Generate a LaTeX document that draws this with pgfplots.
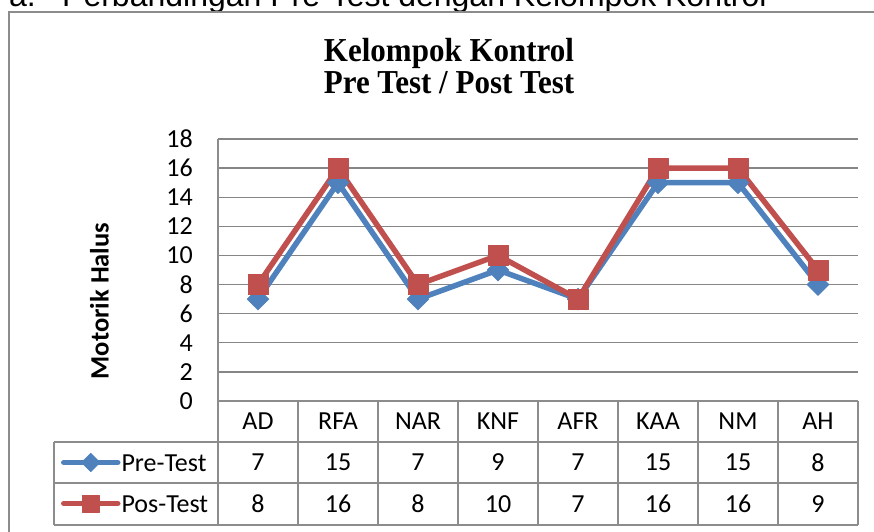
\documentclass[border=0pt]{standalone}
\usepackage{pgfplots}
\pgfplotsset{compat=1.18}
\usepackage{pgfplotstable}
\usepackage{fontspec}
\setmainfont{Carlito}
\newfontfamily\titlefont{Liberation Serif}
\newfontfamily\headfont{Liberation Sans}
\definecolor{preblue}{HTML}{4F81BD}
\definecolor{posred}{HTML}{C0504D}
\definecolor{gridc}{HTML}{868686}
\definecolor{tabc}{HTML}{8C8C8C}

\pgfplotstableread{
x name pre pos
0 AD 7 8
1 RFA 15 16
2 NAR 7 8
3 KNF 9 10
4 AFR 7 7
5 KAA 15 16
6 NM 15 16
7 AH 8 9
}\data

\newcommand\fs{\fontsize{26}{30}\selectfont}

\begin{document}
\begin{tikzpicture}[x=1pt,y=1pt]
\useasboundingbox (0,0) rectangle (874,531);
\clip (0,0) rectangle (874,531);
% heading (partly cut off, as in the reference)
\node[anchor=base west, inner sep=0pt, font=\headfont\fontsize{32}{36}\selectfont] at (9,524) {a.};
\node[anchor=base west, inner sep=0pt, font=\headfont\fontsize{32}{36}\selectfont] at (62,524) {Perbandingan Pre-Test dengan Kelompok Kontrol};
% chart border
\draw[tabc, line width=1.5pt] (9,-5) -- (9,519) -- (880,519);
% title
\node[anchor=base, inner sep=0pt, font=\titlefont\bfseries\fontsize{31}{34}\selectfont, yscale=1.08] at (449,469.3) {Kelompok Kontrol};
\node[anchor=base, inner sep=0pt, font=\titlefont\bfseries\fontsize{31}{34}\selectfont, yscale=1.08] at (449,437) {Pre Test / Post Test};
% y label
\node[rotate=90, inner sep=0pt, font=\bfseries\fontsize{26.5}{30}\selectfont] at (99.5,230) {Motorik Halus};

\begin{axis}[
  at={(218pt,130pt)}, anchor=south west,
  scale only axis, width=640pt, height=262pt,
  xmin=-0.5, xmax=7.5, ymin=0, ymax=18,
  ytick={0,2,...,18},
  xtick=data, xticklabels from table={\data}{name},
  axis x line*=bottom, axis y line*=left,
  axis line style={tabc, line width=1.5pt},
  ymajorgrids, grid style={gridc, line width=1.3pt},
  major tick length=0pt,
  tick label style={font=\fs},
  /pgf/number format/assume math mode=true,
  yticklabel style={inner sep=0pt, xshift=-25pt},
  xticklabel style={anchor=center, inner sep=0pt, yshift=-20.5pt},
  clip=false,
  legend image code/.code={
    \draw[#1, line cap=round, mark repeat=2, mark phase=2, every mark/.append style={scale=0.85}]
      plot coordinates {(0pt,0pt) (27pt,0pt) (54pt,0pt)};
  },
  legend style={at={(axis description cs:-0.2453,-0.1565)}, anchor=north west,
    draw=none, fill=none, inner sep=0pt, outer sep=0pt, row sep=0pt, font=\fs,
    nodes={inner sep=0pt, text height=29pt, text depth=12pt},
    /tikz/every odd column/.style={column sep=1pt}},
  legend cell align=left,
]
\addplot[preblue, line width=5.5pt, line join=round, mark=diamond*, mark size=11pt,
  mark options={xscale=1.33, line width=0.5pt, fill=preblue, draw=preblue}]
  table[x=x, y=pre]{\data};
\addlegendentry{Pre-Test}
\addplot[posred, line width=5.5pt, line join=round, mark=square*, mark size=10pt,
  mark options={line width=0.5pt, fill=posred, draw=posred}]
  table[x=x, y=pos]{\data};
\addlegendentry{Pos-Test}
\end{axis}

% data table
\begin{scope}[tabc, line width=1.5pt]
  \foreach \i in {0,...,8} \draw ({218+80*\i},130) -- ({218+80*\i},6);
  \draw (54,89) -- (858,89);
  \draw (54,48) -- (858,48);
  \draw (54,6) -- (858,6);
  \draw (54,89) -- (54,6);
\end{scope}
\foreach \i in {0,...,7}{
  \pgfplotstablegetelem{\i}{pre}\of\data
  \node[font=\fs, inner sep=0pt] at ({258+80*\i},68.5) {\pgfplotsretval};
  \pgfplotstablegetelem{\i}{pos}\of\data
  \node[font=\fs, inner sep=0pt] at ({258+80*\i},27) {\pgfplotsretval};
}
\end{tikzpicture}
\end{document}
